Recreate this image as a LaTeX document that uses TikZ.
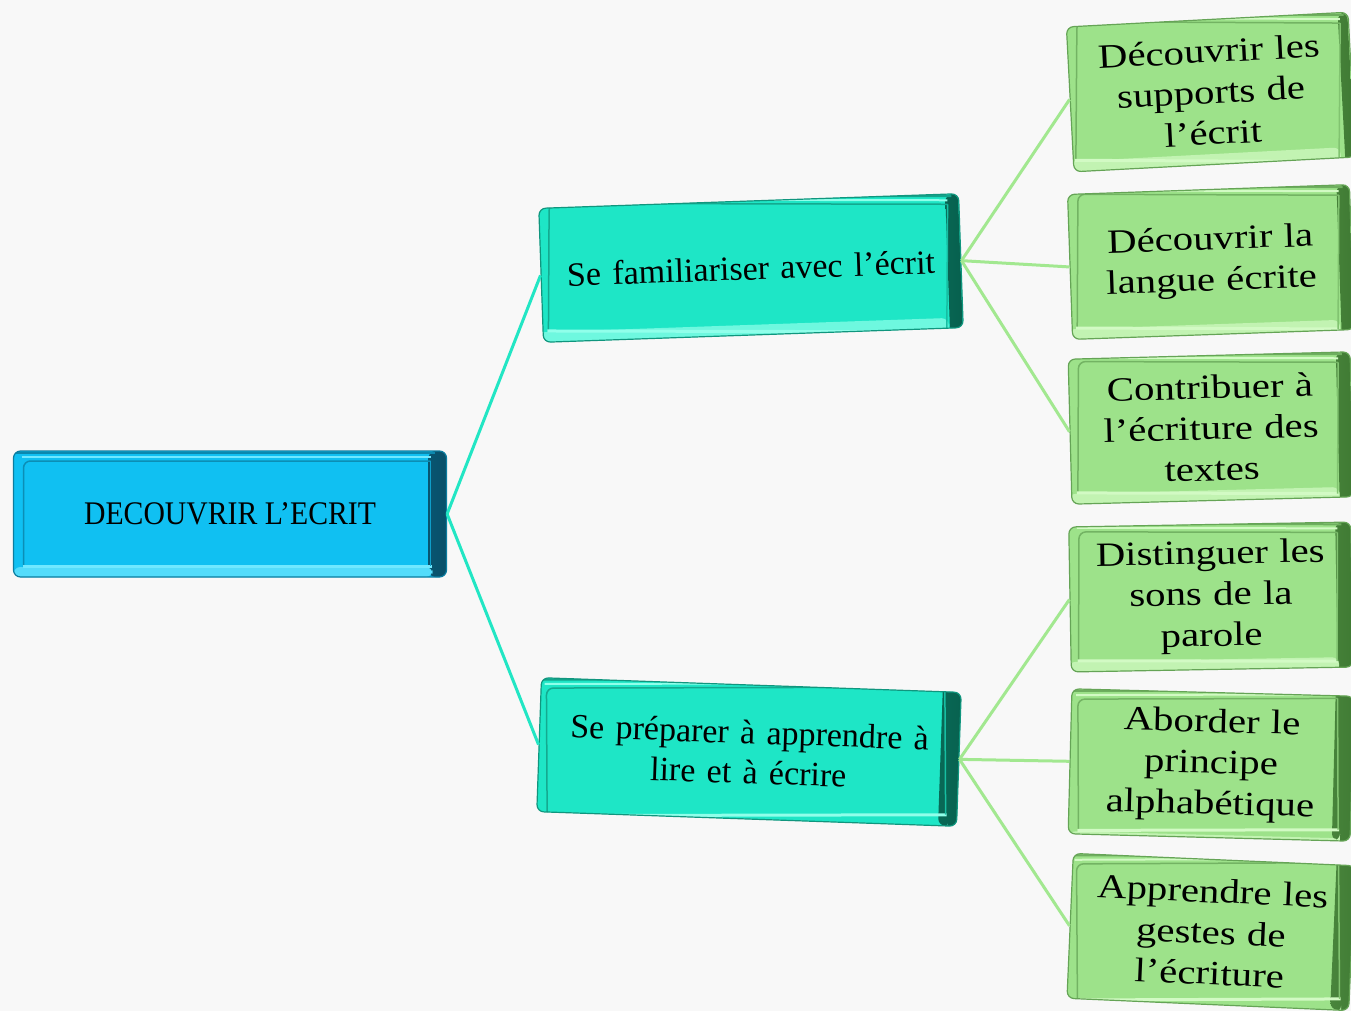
\documentclass[tikz,border=0pt]{standalone}
\usepackage{fontspec}
\setmainfont{Liberation Serif}
\newfontfamily\rootfont[FakeStretch=0.9]{Liberation Serif}
\newfontfamily\leaffont[FakeStretch=1.2]{Liberation Serif}
\definecolor{bgc}{HTML}{F8F8F8}
\definecolor{blueFill}{HTML}{10C0F2}
\definecolor{blueDark}{HTML}{08506A}
\definecolor{blueLight}{HTML}{70E8FF}
\definecolor{tealFill}{HTML}{1EE6C6}
\definecolor{tealDark}{HTML}{07604E}
\definecolor{tealLight}{HTML}{90FFEA}
\definecolor{greenFill}{HTML}{9DE28A}
\definecolor{greenDark}{HTML}{3F7A33}
\definecolor{greenLight}{HTML}{D2FAC4}
\definecolor{tealLine}{HTML}{22E6C4}
\definecolor{greenLine}{HTML}{A2E890}
\tikzset{
  bevelbox/.style n args={3}{shape=rectangle, rounded corners=7pt, fill=#1, draw=#2!60!#1, line width=1.2pt,
    inner sep=0pt, align=center,
    path picture={
      \shade[left color=#1, right color=#2] ([shift={(-18pt,0pt)}]path picture bounding box.north east) rectangle (path picture bounding box.south east);
      \fill[#3!70!#1] ([shift={(0pt,10pt)}]path picture bounding box.south west) rectangle ([shift={(-14pt,0pt)}]path picture bounding box.south east);
      \draw[#2!50!#1, line width=2pt] ([shift={(0pt,-2pt)}]path picture bounding box.north west) -- ([shift={(-12pt,-2pt)}]path picture bounding box.north east);
      \draw[#3, line width=2pt] ([shift={(8pt,-6pt)}]path picture bounding box.north west) -- ([shift={(-16pt,-6pt)}]path picture bounding box.north east);
      \draw[#2!45!#1, line width=1.5pt] ([shift={(10pt,10pt)}]path picture bounding box.south west) -- ([shift={(10pt,-10pt)}]path picture bounding box.north west) -- ([shift={(-16pt,-10pt)}]path picture bounding box.north east);
      \draw[#3, line width=3pt] ([shift={(9pt,11pt)}]path picture bounding box.south west) -- ([shift={(-15pt,11pt)}]path picture bounding box.south east);
      \draw[#2!30!#1, line width=1.5pt] ([shift={(-16pt,-10pt)}]path picture bounding box.north east) -- ([shift={(-16pt,11pt)}]path picture bounding box.south east);
    }},
  rootbox/.style={bevelbox={blueFill}{blueDark}{blueLight}, minimum width=433pt, minimum height=126pt,
    font=\rootfont\fontsize{33}{36}\selectfont},
  midbox/.style={bevelbox={tealFill}{tealDark}{tealLight}, minimum width=420pt, minimum height=134pt,
    font=\fontsize{34}{40}\selectfont, text width=410pt},
  leafbox/.style={bevelbox={greenFill}{greenDark}{greenLight}, minimum width=282pt, minimum height=145pt,
    font=\leaffont\fontsize{34}{41}\selectfont, text width=270pt},
  tealconn/.style={draw=tealLine, line width=3pt},
  greenconn/.style={draw=greenLine, line width=3pt}
}
\begin{document}
\begin{tikzpicture}[x=1pt,y=-1pt]
  \fill[bgc] (0,0) rectangle (1351,1011);
  \useasboundingbox (0,0) rectangle (1351,1011);

  \node[rootbox] (root) at (230,514) {DECOUVRIR L’ECRIT};
  \node[midbox, rotate=2] (m1) at (751,268) {Se familiariser avec l’écrit};
  \node[midbox, rotate=-2] (m2) at (749,752) {Se préparer à apprendre à\\lire et à écrire};

  \node[leafbox, rotate=3] (r1) at (1211,92) {Découvrir les\\supports de\\l’écrit};
  \node[leafbox, rotate=2] (r2) at (1211,262) {Découvrir la\\langue écrite};
  \node[leafbox, rotate=1.5] (r3) at (1211,428) {Contribuer à\\l’écriture des\\textes};
  \node[leafbox, rotate=1] (r4) at (1211,597) {Distinguer les\\sons de la\\parole};
  \node[leafbox, rotate=-1.5] (r5) at (1211,765) {Aborder le\\principe\\alphabétique};
  \node[leafbox, rotate=-2.5] (r6) at (1211,932) {Apprendre les\\gestes de\\l’écriture};

  \draw[tealconn] (root.east) -- (m1.west);
  \draw[tealconn] (root.east) -- (m2.west);
  \draw[greenconn] (m1.east) -- (r1.west);
  \draw[greenconn] (m1.east) -- (r2.west);
  \draw[greenconn] (m1.east) -- (r3.west);
  \draw[greenconn] (m2.east) -- (r4.west);
  \draw[greenconn] (m2.east) -- (r5.west);
  \draw[greenconn] (m2.east) -- (r6.west);
\end{tikzpicture}
\end{document}
